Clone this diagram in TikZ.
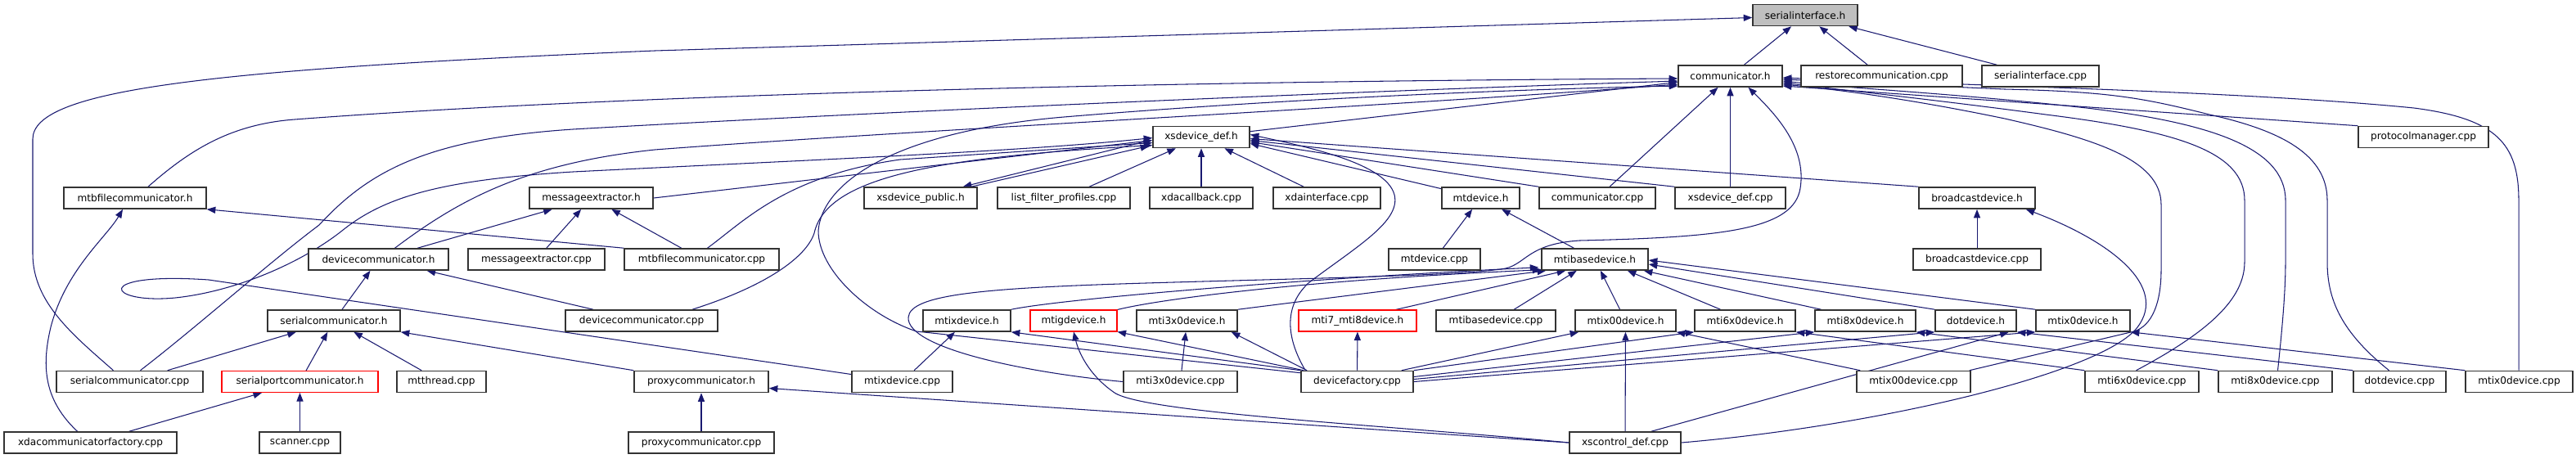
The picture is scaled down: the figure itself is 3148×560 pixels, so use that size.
\documentclass[tikz,border=0pt]{standalone}
\usepackage{fontspec}
\setmainfont{DejaVu Sans}
\usetikzlibrary{arrows.meta,calc}
\definecolor{edgeblue}{HTML}{191970}
\definecolor{rootgray}{HTML}{BFBFBF}
\pgfdeclarelayer{edges}
\pgfsetlayers{edges,main}
\begin{document}
\begin{tikzpicture}[x=0.2mm, y=-0.2mm,
    fnode/.style={draw=black!80, line width=0.9pt, fill=white, inner sep=0pt,
      minimum height=26*0.2mm, font=\fontsize{6.9}{8.2}\selectfont},
    wd/.style={minimum width=#1*0.2mm},
    redbox/.style={draw=red, line width=0.6pt},
    dep/.style={draw=edgeblue, line width=0.6pt, -{Triangle[length=6pt,width=4.6pt]}}]
    \useasboundingbox (0,0) rectangle (3148,560);

    % row 0 and 1
    \node[fnode, wd=128, fill=rootgray] (si) at (2206,18.5) {serialinterface.h};
    \node[fnode, wd=127] (ch) at (2114.5,93) {communicator.h};
    \node[fnode, wd=197] (restore) at (2299.5,93) {restorecommunication.cpp};
    \node[fnode, wd=143] (sicpp) at (2493.5,93) {serialinterface.cpp};

    % row 2
    \node[fnode, wd=118] (xd) at (1468,167.5) {xsdevice\_def.h};
    \node[fnode, wd=159] (protmgr) at (2961.5,167.5) {protocolmanager.cpp};

    % row 3
    \node[fnode, wd=174] (mtbfh) at (165,242) {mtbfilecommunicator.h};
    \node[fnode, wd=151] (msgexh) at (722.5,242) {messageextractor.h};
    \node[fnode, wd=138] (xspub) at (1125,242) {xsdevice\_public.h};
    \node[fnode, wd=162] (lfp) at (1300,242) {list\_filter\_profiles.cpp};
    \node[fnode, wd=126] (xdacb) at (1468,242) {xdacallback.cpp};
    \node[fnode, wd=131] (xdaif) at (1621.5,242) {xdainterface.cpp};
    \node[fnode, wd=95] (mtdevh) at (1809.5,242) {mtdevice.h};
    \node[fnode, wd=142] (commcpp) at (1952,242) {communicator.cpp};
    \node[fnode, wd=135] (xddefcpp) at (2114.5,242) {xsdevice\_def.cpp};
    \node[fnode, wd=142] (bcasth) at (2416,242) {broadcastdevice.h};

    % row 4
    \node[fnode, wd=171] (devcommh) at (462.5,317) {devicecommunicator.h};
    \node[fnode, wd=167] (msgexcpp) at (655.5,317) {messageextractor.cpp};
    \node[fnode, wd=189] (mtbfcpp) at (857.5,317) {mtbfilecommunicator.cpp};
    \node[fnode, wd=112] (mtdevcpp) at (1753,317) {mtdevice.cpp};
    \node[fnode, wd=130] (mtibh) at (1949,317) {mtibasedevice.h};
    \node[fnode, wd=156] (bcastcpp) at (2416,317) {broadcastdevice.cpp};

    % row 5
    \node[fnode, wd=162] (sercommh) at (408,392) {serialcommunicator.h};
    \node[fnode, wd=186] (devcommcpp) at (784,392) {devicecommunicator.cpp};
    \node[fnode, wd=107] (mtixh) at (1181.5,392) {mtixdevice.h};
    \node[fnode, redbox, wd=106] (mtigh) at (1312,392) {mtigdevice.h};
    \node[fnode, wd=123] (mti3h) at (1450.5,392) {mti3x0device.h};
    \node[fnode, redbox, wd=144] (mti78h) at (1659,392) {mti7\_mti8device.h};
    \node[fnode, wd=146] (mtibcpp) at (1828,392) {mtibasedevice.cpp};
    \node[fnode, wd=123] (mtix00h) at (1986.5,392) {mtix00device.h};
    \node[fnode, wd=123] (mti6h) at (2132.5,392) {mti6x0device.h};
    \node[fnode, wd=123] (mti8h) at (2279.5,392) {mti8x0device.h};
    \node[fnode, wd=99] (doth) at (2414.5,392) {dotdevice.h};
    \node[fnode, wd=115] (mtix0h) at (2545.5,392) {mtix0device.h};

    % row 6
    \node[fnode, wd=179] (sercommcpp) at (158.5,466.5) {serialcommunicator.cpp};
    \node[fnode, redbox, wd=191] (serporth) at (366.5,466.5) {serialportcommunicator.h};
    \node[fnode, wd=109] (mtthread) at (539.5,466.5) {mtthread.cpp};
    \node[fnode, wd=164] (proxyh) at (857,466.5) {proxycommunicator.h};
    \node[fnode, wd=123] (mtixcpp) at (1102.5,466.5) {mtixdevice.cpp};
    \node[fnode, wd=139] (mti3cpp) at (1442.5,466.5) {mti3x0device.cpp};
    \node[fnode, wd=137] (devfact) at (1658.5,466.5) {devicefactory.cpp};
    \node[fnode, wd=139] (mtix00cpp) at (2338.5,466.5) {mtix00device.cpp};
    \node[fnode, wd=139] (mti6cpp) at (2617.5,466.5) {mti6x0device.cpp};
    \node[fnode, wd=139] (mti8cpp) at (2780.5,466.5) {mti8x0device.cpp};
    \node[fnode, wd=113] (dotcpp) at (2932.5,466.5) {dotdevice.cpp};
    \node[fnode, wd=131] (mtix0cpp) at (3078.5,466.5) {mtix0device.cpp};

    % row 7
    \node[fnode, wd=211] (xdafact) at (110.5,541) {xdacommunicatorfactory.cpp};
    \node[fnode, wd=99] (scanner) at (366.5,541) {scanner.cpp};
    \node[fnode, wd=178] (proxycpp) at (857,541) {proxycommunicator.cpp};
    \node[fnode, wd=136] (xscdef) at (1986,541) {xscontrol\_def.cpp};

    \begin{pgfonlayer}{edges}
    % serialinterface.h
    \draw[dep] (ch) -- (si);
    \draw[dep] (restore) -- (si);
    \draw[dep] (sicpp) -- (si);
    \draw[dep] ($(sercommcpp.north)+(-20,0)$) .. controls (90,410) and (40,370) .. (40,310) -- (40,170)
        .. controls (40,110) and (250,85) .. (800,62) -- ($(si.west)+(0,3)$);

    % communicator.h
    \draw[dep] ($(mtbfh.north)+(16,0)$) .. controls (230,185) and (280,152) .. (360,146)
        .. controls (700,120) and (1300,100) .. ($(ch.west)+(0,3)$);
    \draw[dep] ($(sercommcpp.north)+(13,0)$) .. controls (240,400) and (330,320) .. (390,275)
        .. controls (450,210) and (520,170) .. (700,158) .. controls (1100,135) and (1700,110) .. ($(ch.west)+(0,6)$);
    \draw[dep] ($(devcommh.north)+(20,0)$) .. controls (560,245) and (640,200) .. (800,183)
        .. controls (1100,160) and (1700,130) .. ($(ch.west)+(0,10)$);
    \draw[dep] ($(devfact.north west)+(0,3)$) -- (1120,405) .. controls (1060,385) and (1000,330) .. (1000,282)
        .. controls (1005,220) and (1100,160) .. (1300,143) .. controls (1600,118) and (1900,108) .. ($(ch.west)+(0,12)$);
    \draw[dep] (xd) -- (ch);
    \draw[dep] (commcpp) -- (ch);
    \draw[dep] (xddefcpp) -- (ch);
    \draw[dep] (mti3cpp.west) .. controls (1250,455) and (1108,425) .. (1110,388)
        .. controls (1112,360) and (1200,352) .. (1400,346) .. controls (1600,340) and (1790,337) .. (1840,328)
        .. controls (1865,322) and (1868,298) .. (1930,294) .. controls (2100,290) and (2192,282) .. (2200,230)
        .. controls (2208,180) and (2170,140) .. ($(ch.south)+(22,0)$);
    \draw[dep] ($(mtix00cpp.north east)+(-2,0)$) -- (2608,405) .. controls (2630,398) and (2641,370) .. (2641,330)
        -- (2641,250) .. controls (2641,195) and (2560,170) .. (2450,145)
        .. controls (2320,118) and (2230,108) .. ($(ch.east)+(0,10)$);
    \draw[dep] ($(mti6cpp.north)+(-7,0)$) .. controls (2700,405) and (2743,365) .. (2743,320) -- (2743,245)
        .. controls (2743,185) and (2660,160) .. (2500,140) .. controls (2350,120) and (2250,110) .. ($(ch.east)+(0,8)$);
    \draw[dep] ($(mti8cpp.north)+(3,0)$) .. controls (2788,410) and (2793,360) .. (2793,320) -- (2793,245)
        .. controls (2793,180) and (2700,150) .. (2550,132) .. controls (2400,115) and (2260,108) .. ($(ch.east)+(0,6)$);
    \draw[dep] ($(dotcpp.north)+(-13,0)$) .. controls (2860,405) and (2844,365) .. (2844,320) -- (2844,245)
        .. controls (2844,190) and (2790,160) .. (2700,140) .. controls (2620,120) and (2580,112) .. (2450,109)
        -- ($(ch.east)+(0,4)$);
    \draw[dep] ($(mtix0cpp.north)+(-0.5,0)$) -- (3078,245) .. controls (3078,175) and (3050,145) .. (2950,132)
        .. controls (2750,112) and (2400,104) .. ($(ch.east)+(0,2)$);
    \draw[dep] (protmgr.north west) -- ($(ch.east)+(0,12)$);

    % xsdevice_def.h
    \draw[dep] ($(xspub.north east)+(-8,0)$) -- ($(xd.south west)+(-4,-3)$);
    \draw[dep] ($(xd.south west)+(-10,-8)$) -- ($(xspub.north east)+(-18,0)$);
    \draw[dep] (lfp) -- (xd);
    \draw[dep] (xdacb) -- (xd);
    \draw[dep] (xdaif) -- (xd);
    \draw[dep] (mtdevh) -- ($(xd.east)+(0,8)$);
    \draw[dep] (commcpp.north west) -- ($(xd.east)+(0,6)$);
    \draw[dep] (xddefcpp.north west) -- ($(xd.east)+(0,4)$);
    \draw[dep] (bcasth.north west) -- ($(xd.east)+(0,2)$);
    \draw[dep] (msgexh.east) -- ($(xd.west)+(0,4)$);
    \draw[dep] ($(mtbfcpp.north)+(7,0)$) .. controls (910,270) and (960,215) .. (1100,195) -- ($(xd.west)+(0,7)$);
    \draw[dep] ($(devcommcpp.north)+(62,0)$) .. controls (935,350) and (985,315) .. (995,285)
        .. controls (1010,215) and (1150,192) .. ($(xd.west)+(0,10)$);
    \draw[dep] ($(mtixcpp.west)+(0,-9)$) -- (255,342) .. controls (110,332) and (130,372) .. (214,364)
        .. controls (290,356) and (370,320) .. (418,282) .. controls (470,240) and (540,220) .. (700,210)
        .. controls (1000,195) and (1250,185) .. ($(xd.west)+(0,1)$);
    \draw[dep] ($(devfact.north west)+(6,0)$) .. controls (1570,410) and (1570,372) .. (1600,345)
        .. controls (1660,300) and (1712,270) .. (1704,238) .. controls (1694,200) and (1600,180) .. ($(xd.east)+(0,-3)$);

    % mtdevice.h and mtibasedevice.h
    \draw[dep] (mtibh) -- (mtdevh);
    \draw[dep] (mtdevcpp) -- (mtdevh);
    \draw[dep] (mtixh.north east) .. controls (1300,365) and (1600,340) .. ($(mtibh.south west)+(-3,-4)$);
    \draw[dep] (mtigh.north east) .. controls (1420,365) and (1600,342) .. ($(mtibh.south west)+(0,-1)$);
    \draw[dep] (mti3h.north east) -- ($(mtibh.south west)+(6,0)$);
    \draw[dep] ($(mti78h.north east)+(-26,0)$) -- ($(mtibh.south west)+(30,0)$);
    \draw[dep] (mtibcpp) -- (mtibh);
    \draw[dep] (mtix00h) -- (mtibh);
    \draw[dep] ($(mti6h.north)+(-30,0)$) -- ($(mtibh.south east)+(-26,0)$);
    \draw[dep] ($(mti8h.north)+(-54,0)$) -- ($(mtibh.south east)+(-6,0)$);
    \draw[dep] (doth.north west) -- ($(mtibh.east)+(0,6)$);
    \draw[dep] (mtix0h.north west) -- ($(mtibh.east)+(0,1)$);

    % device headers
    \draw[dep] (devfact.north west) -- (mtixh.south east);
    \draw[dep] ($(devfact.north west)+(4,0)$) -- (mtigh.south east);
    \draw[dep] ($(devfact.north west)+(8,0)$) -- ($(mti3h.south east)+(-8,0)$);
    \draw[dep] (devfact) -- (mti78h);
    \draw[dep] ($(devfact.north east)+(-15,0)$) -- ($(mtix00h.south west)+(5,0)$);
    \draw[dep] (devfact.north east) -- (mti6h.south west);
    \draw[dep] ($(devfact.east)+(0,-6)$) -- (mti8h.south west);
    \draw[dep] ($(devfact.east)+(0,-3)$) -- (doth.south west);
    \draw[dep] (devfact.east) -- (mtix0h.south west);
    \draw[dep] (mtixcpp) -- (mtixh);
    \draw[dep] (mti3cpp) -- (mti3h);
    \draw[dep] ($(mtix00cpp.north west)+(5,0)$) -- (mtix00h.south east);
    \draw[dep] (mti6cpp.north west) -- (mti6h.south east);
    \draw[dep] (mti8cpp.north west) -- (mti8h.south east);
    \draw[dep] (dotcpp.north west) -- (doth.south east);
    \draw[dep] (mtix0cpp.north west) -- (mtix0h.south east);
    \draw[dep] (xscdef) -- (mtix00h);
    \draw[dep] ($(xscdef.north)+(32,0)$) -- ($(doth.south east)+(-10,0)$);
    \draw[dep] (xscdef.west) .. controls (1700,520) and (1400,505) .. (1362,480)
        .. controls (1330,458) and (1318,430) .. (mtigh.south);
    \draw[dep] (xscdef.west) -- ($(proxyh.east)+(0,8)$);
    \draw[dep] (xscdef.east) .. controls (2300,520) and (2570,455) .. (2612,400)
        .. controls (2650,350) and (2580,295) .. ($(bcasth.south east)+(-12,0)$);
    \draw[dep] (bcastcpp) -- (bcasth);

    % communicators
    \draw[dep] (sercommh) -- (devcommh);
    \draw[dep] (devcommcpp) -- (devcommh);
    \draw[dep] (devcommh) -- (msgexh);
    \draw[dep] (msgexcpp) -- (msgexh);
    \draw[dep] (mtbfcpp) -- (msgexh);
    \draw[dep] (mtbfcpp.north west) -- (mtbfh.south east);
    \draw[dep] ($(xdafact.north)+(-16,0)$) .. controls (55,490) and (50,450) .. (62,400)
        .. controls (80,330) and (130,290) .. ($(mtbfh.south)+(-15,0)$);
    \draw[dep] (xdafact) -- (serporth);
    \draw[dep] (scanner) -- (serporth);
    \draw[dep] (serporth) -- (sercommh);
    \draw[dep] (sercommcpp) -- (sercommh);
    \draw[dep] (mtthread) -- (sercommh);
    \draw[dep] (proxyh.north west) -- (sercommh.south east);
    \draw[dep] (proxycpp) -- (proxyh);
    \end{pgfonlayer}
\end{tikzpicture}
\end{document}
